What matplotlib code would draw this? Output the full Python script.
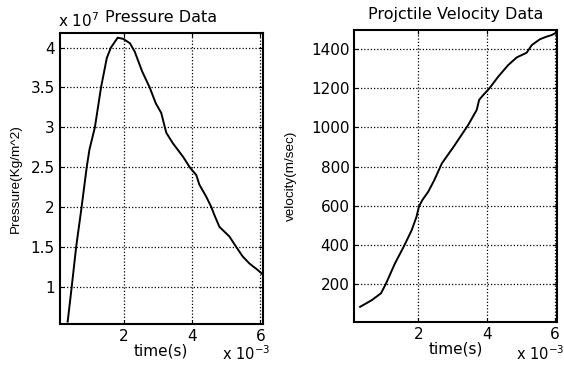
import matplotlib
matplotlib.use("Agg")
import matplotlib.pyplot as plt
from matplotlib.ticker import FormatStrFormatter

# Pressure data (time in 1e-3 s, pressure in 1e7 Kg/m^2)
p_time = [0.34, 0.46, 0.59, 0.75, 0.90, 0.98, 1.14, 1.32, 1.49, 1.61, 1.81, 1.97,
          2.17, 2.31, 2.53, 2.75, 2.93, 3.09, 3.19, 3.24, 3.43, 3.73, 3.94, 4.12,
          4.21, 4.41, 4.56, 4.65, 4.80, 5.09, 5.29, 5.48, 5.68, 5.92, 6.08]
pressure = [0.56, 1.0, 1.5, 2.0, 2.5, 2.72, 3.0, 3.5, 3.87, 4.0, 4.125, 4.11,
            4.055, 3.95, 3.70, 3.50, 3.30, 3.18, 3.01, 2.93, 2.80, 2.63, 2.49, 2.40,
            2.28, 2.13, 2.0, 1.90, 1.75, 1.63, 1.50, 1.38, 1.29, 1.21, 1.15]

# Velocity data (time in 1e-3 s, velocity in m/sec)
v_time = [0.30, 0.64, 0.91, 1.05, 1.32, 1.59, 1.81, 1.95, 2.02, 2.12, 2.29, 2.47,
          2.69, 3.05, 3.46, 3.71, 3.78, 3.90, 4.08, 4.34, 4.63, 4.88, 5.17, 5.32,
          5.56, 5.75, 5.90, 6.03]
velocity = [84, 118, 153, 200, 306, 396, 476, 544, 595, 629, 671, 731,
            816, 905, 1012, 1089, 1140, 1165, 1199, 1259, 1318, 1357, 1381, 1420,
            1450, 1463, 1471, 1483]

p_yticks = [1, 1.5, 2, 2.5, 3, 3.5, 4]
v_yticks = [200, 400, 600, 800, 1000, 1200, 1400]
x_ticks = [2, 4, 6]

plt.rcParams['font.family'] = ['DejaVu Sans']
plt.rcParams['mathtext.fontset'] = 'dejavusans'

fig = plt.figure(figsize=(5.64, 3.65), dpi=100)
ax1 = fig.add_axes([0.1055, 0.1123, 0.3608, 0.7965])
ax2 = fig.add_axes([0.6282, 0.1186, 0.3589, 0.7992])

def style(ax):
    ax.grid(True, color='black', linestyle=(0, (1, 1.6)), linewidth=0.9)
    ax.tick_params(direction='in', length=3, width=0.8, labelsize=11,
                   top=True, right=True, colors='black', pad=3.5)
    for s in ax.spines.values():
        s.set_linewidth(1.5)
        s.set_color('black')
    ax.set_xticks(x_ticks)
    ax.xaxis.set_major_formatter(FormatStrFormatter('%g'))
    ax.yaxis.set_major_formatter(FormatStrFormatter('%g'))
    ax.set_xlabel('time(s)', fontsize=11, labelpad=0)

ax1.plot(p_time, pressure, color='black', linewidth=1.4)
ax1.set_xlim(0.1, 6.08)
ax1.set_ylim(0.53, 4.18)
ax1.set_yticks(p_yticks)
style(ax1)
ax1.set_ylabel('Pressure(Kg/m^2)', fontsize=9.7, family='Liberation Sans')
ax1.yaxis.set_label_coords(-0.184, 0.5)
ax1.set_title('Pressure Data', fontsize=11.5, pad=8)

ax2.plot(v_time, velocity, color='black', linewidth=1.4)
ax2.set_xlim(0.13, 6.05)
ax2.set_ylim(8, 1497)
ax2.set_yticks(v_yticks)
style(ax2)
ax2.set_ylabel('velocity(m/sec)', fontsize=9.7, family='Liberation Sans')
ax2.yaxis.set_label_coords(-0.283, 0.5)
ax2.set_title('Projctile Velocity Data', fontsize=11.5, pad=8)

# axis multipliers
fig.text(58 / 564, 1 - 27 / 365, r'x 10$^{7}$', fontsize=11, ha='left', va='baseline')
fig.text(222 / 564, 1 - 360 / 365, r'x 10$^{-3}$', fontsize=10.5, ha='left', va='baseline')
fig.text(516 / 564, 1 - 360 / 365, r'x 10$^{-3}$', fontsize=10.5, ha='left', va='baseline')

fig.savefig('out.png', dpi=100)
